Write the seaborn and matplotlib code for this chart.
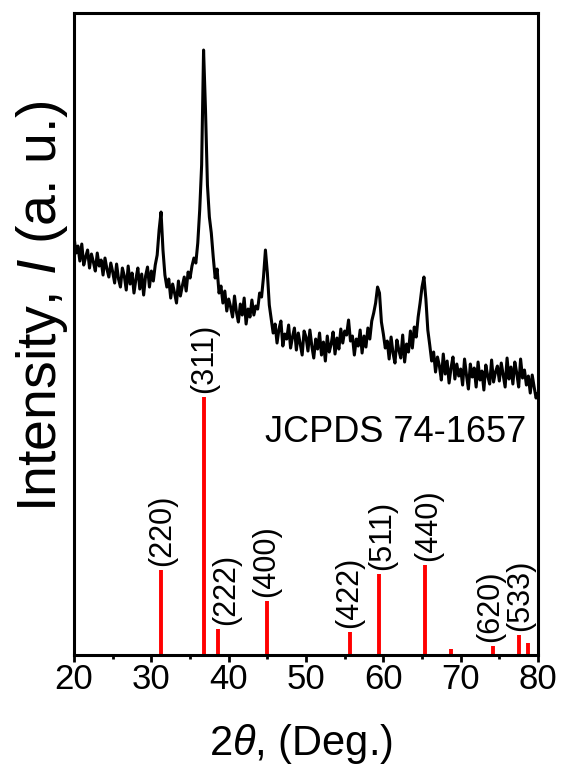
import numpy as np
import matplotlib
matplotlib.use('Agg')
import matplotlib.pyplot as plt
import seaborn as sns

# XRD scan, every 0.25 deg (20 -> 80)
scan_start = 20.0
scan_stop = 80.0
scan_points = 241
intensity = [
    418, 402, 409, 394, 411, 390, 398, 405, 387, 401, 393, 384, 402, 389, 395, 380, 397, 386, 378, 392,
    383, 372, 391, 376, 368, 387, 379, 365, 389, 371, 382, 362, 376, 387, 366, 381, 360, 379, 388, 368,
    384, 374, 390, 400, 425, 443, 405, 380, 368, 376, 357, 371, 362, 352, 374, 359, 369, 378, 364, 383,
    377, 389, 397, 392, 412, 445, 490, 605, 545, 470, 438, 422, 398, 377, 386, 362, 369, 352, 364, 344,
    356, 348, 338, 359, 343, 333, 351, 340, 357, 331, 346, 338, 355, 340, 349, 346, 362, 358, 378, 405,
    382, 350, 336, 322, 331, 312, 326, 334, 309, 321, 316, 330, 307, 318, 327, 305, 322, 311, 300, 324,
    318, 304, 325, 309, 297, 316, 306, 322, 300, 313, 294, 319, 303, 311, 323, 301, 317, 306, 326, 312,
    324, 320, 335, 314, 319, 300, 316, 309, 325, 302, 319, 308, 327, 316, 334, 342, 352, 368, 362, 333,
    321, 307, 314, 296, 318, 302, 292, 315, 305, 297, 320, 293, 311, 303, 324, 307, 328, 318, 338, 352,
    368, 378, 356, 325, 310, 294, 303, 283, 298, 289, 275, 301, 281, 294, 272, 287, 298, 276, 291, 279,
    286, 270, 296, 280, 266, 291, 278, 287, 268, 293, 275, 284, 265, 290, 279, 271, 295, 273, 283, 289,
    274, 292, 280, 268, 297, 276, 288, 271, 293, 282, 268, 296, 277, 285, 270, 279, 262, 280, 268, 257,
    262,
]

# JCPDS 74-1657 reference lines
ref_pos = [31.26, 36.8, 38.6, 44.9, 55.7, 59.5, 65.4, 68.8, 74.2, 77.5, 78.7]
ref_int = [85, 258, 26, 54, 23, 81, 90, 6, 9, 20, 12]
ref_hkl = ['(220)', '(311)', '(222)', '(400)', '(422)', '(511)', '(440)', '', '(620)', '(533)', '']
# horizontal nudge of some labels (points)
label_dx = [1, 0, 6, 0, -1, 2, 2, 0, -2, 1, 0]

two_theta = np.linspace(scan_start, scan_stop, scan_points)

sns.set_style('ticks')
plt.rcParams['font.family'] = ['Liberation Sans', 'DejaVu Sans']
plt.rcParams['mathtext.fontset'] = 'custom'
plt.rcParams['mathtext.rm'] = 'Liberation Sans'
plt.rcParams['mathtext.it'] = 'Liberation Sans:italic'
plt.rcParams['text.color'] = 'black'
plt.rcParams['axes.labelcolor'] = 'black'
plt.rcParams['xtick.color'] = 'black'
plt.rcParams['ytick.color'] = 'black'

fig = plt.figure(figsize=(5.61, 7.67), dpi=100)
ax = fig.add_axes([0.132, 0.146, 0.827, 0.837])

sns.lineplot(x=two_theta, y=intensity, ax=ax, color='black', linewidth=2.2)
ax.vlines(ref_pos, 0, ref_int, color='#ff0000', linewidth=2.8)

for pos, h, hkl, dx in zip(ref_pos, ref_int, ref_hkl, label_dx):
    if hkl:
        ax.annotate(hkl, (pos, h), xytext=(dx, 3), textcoords='offset points',
                    rotation=90, ha='center', va='bottom', fontsize=22)

ax.text(44.7, 213, 'JCPDS 74-1657', fontsize=26, va='baseline', ha='left')

ax.set_xlim(20, 80)
ax.set_ylim(0, 642)
ax.set_xticks([20, 30, 40, 50, 60, 70, 80])
ax.set_xticks([25, 35, 45, 55, 65, 75], minor=True)
ax.set_yticks([])
ax.tick_params(axis='x', which='major', length=5, width=2, labelsize=25, pad=1,
               direction='out', top=False)
ax.tick_params(axis='x', which='minor', length=3, width=2, direction='out', top=False)
for side in ['left', 'right', 'top', 'bottom']:
    ax.spines[side].set_visible(True)
    ax.spines[side].set_linewidth(2.2)
    ax.spines[side].set_color('black')

ax.set_xlabel('2$\\theta$, (Deg.)', fontsize=30)
ax.xaxis.set_label_coords(0.489, -0.104)
ax.set_ylabel('Intensity, $I$ (a. u.)', fontsize=40)
ax.yaxis.set_label_coords(-0.008, 0.544)

plt.savefig('out.png', dpi=100)
